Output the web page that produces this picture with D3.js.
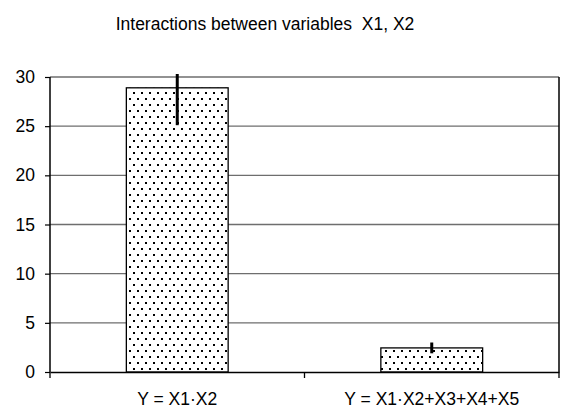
<!DOCTYPE html>
<html><head><meta charset="utf-8">
<script src="https://cdn.jsdelivr.net/npm/d3@7"></script>
<style>body{margin:0;background:#fff}svg{display:block}text{font-family:"Liberation Sans",Arial,sans-serif;fill:#000}</style>
</head><body><svg id="c" width="562" height="412"></svg>
<script>
const title = "Interactions between variables  X1, X2";
const categories = ["Y = X1·X2", "Y = X1·X2+X3+X4+X5"];
const values = [28.9, 2.45];
const errors = [3.8, 0.55];
const yTicks = [0, 5, 10, 15, 20, 25, 30];

const svg = d3.select("#c");
const m = {l: 50, r: 3, t: 77, b: 40};
const W = 562, H = 412;
const FS = "17.5px";
const x = d3.scaleBand().domain(categories).range([m.l, W - m.r]).paddingInner(0.6).paddingOuter(0.3);
const xb = d3.scaleBand().domain(categories).range([m.l, W - m.r]);
const y = d3.scaleLinear().domain([0, 30]).range([H - m.b, m.t]);

const defs = svg.append("defs");
const pat = defs.append("pattern").attr("id", "dots").attr("patternUnits", "userSpaceOnUse")
  .attr("width", 8).attr("height", 12);
pat.append("rect").attr("width", 8).attr("height", 12).attr("fill", "#fff");
pat.append("rect").attr("x", 1).attr("y", 2).attr("width", 2).attr("height", 2).attr("fill", "#000");
pat.append("rect").attr("x", 5).attr("y", 8).attr("width", 2).attr("height", 2).attr("fill", "#000");
defs.append("clipPath").attr("id", "clip").append("rect")
  .attr("x", m.l).attr("y", m.t - 3).attr("width", W - m.r - m.l).attr("height", H - m.b - m.t + 3);

svg.append("text").attr("x", 265).attr("y", 29.5).attr("text-anchor", "middle")
  .style("font-size", FS).style("white-space", "pre").text(title);

// gridlines
svg.append("g").selectAll("line").data(yTicks.filter(d => d > 0)).join("line")
  .attr("x1", m.l).attr("x2", W - m.r).attr("y1", d => y(d)).attr("y2", d => y(d))
  .attr("stroke", "#6e6e6e").attr("stroke-width", 1.3);
// right border
svg.append("line").attr("x1", W - m.r).attr("x2", W - m.r).attr("y1", m.t).attr("y2", H - m.b)
  .attr("stroke", "#000").attr("stroke-width", 1.5);

// bars
svg.append("g").selectAll("rect").data(categories).join("rect")
  .attr("x", d => x(d)).attr("width", x.bandwidth())
  .attr("y", (d, i) => y(values[i])).attr("height", (d, i) => y(0) - y(values[i]))
  .attr("fill", "url(#dots)").attr("stroke", "#000").attr("stroke-width", 1.3);

// error bars
svg.append("g").attr("clip-path", "url(#clip)").selectAll("line").data(categories).join("line")
  .attr("x1", d => x(d) + x.bandwidth() / 2).attr("x2", d => x(d) + x.bandwidth() / 2)
  .attr("y1", (d, i) => y(values[i] + errors[i])).attr("y2", (d, i) => y(values[i] - errors[i]))
  .attr("stroke", "#000").attr("stroke-width", 3);

// y axis
const ya = svg.append("g").attr("transform", `translate(${m.l},0)`)
  .call(d3.axisLeft(y).tickValues(yTicks).tickSize(5).tickPadding(10));
ya.select(".domain").attr("stroke", "#000").attr("stroke-width", 1.5).attr("d", `M0,${m.t}V${H - m.b}`);
ya.selectAll(".tick line").attr("stroke", "#000").attr("stroke-width", 1.2);
ya.selectAll("text").style("font-size", FS).attr("font-family", null);

// x axis
const xa = svg.append("g").attr("transform", `translate(0,${H - m.b})`)
  .call(d3.axisBottom(xb).tickSize(0).tickPadding(21));
xa.select(".domain").attr("stroke", "#000").attr("stroke-width", 1.5);
xa.selectAll("text").style("font-size", FS).attr("font-family", null);
const bounds = [m.l, xb(categories[1]), W - m.r];
xa.selectAll(".sep").data(bounds).join("line").attr("class", "sep")
  .attr("x1", d => d).attr("x2", d => d).attr("y1", 0).attr("y2", 6)
  .attr("stroke", "#000").attr("stroke-width", 1.3);
</script></body></html>
